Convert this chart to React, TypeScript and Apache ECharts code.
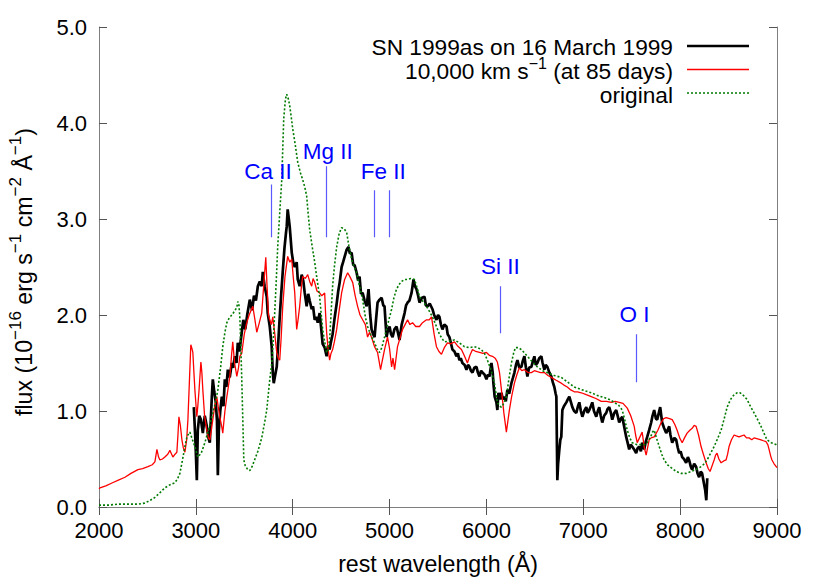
import React, { useEffect, useRef } from "react";
import * as echarts from "echarts";

// SN 1999as observed spectrum (rest wavelength Å, flux 1e-16)
const snSpectrum: [number, number][] = [
  [2979,1.04],[2995,0.70],[3010,0.28],[3020,0.80],[3035,0.95],[3052,0.91],[3072,0.77],[3092,0.95],[3113,0.84],[3130,0.72],
  [3144,0.67],[3165,1.15],[3175,1.33],[3190,1.20],[3206,1.09],[3218,0.90],[3227,0.33],[3237,0.80],[3252,1.00],[3268,1.15],
  [3285,1.05],[3299,1.33],[3315,1.25],[3330,1.43],[3350,1.35],[3371,1.50],[3385,1.45],[3402,1.57],[3420,1.50],[3433,1.71],
  [3450,1.62],[3474,1.82],[3490,1.95],[3510,1.85],[3530,2.00],[3557,2.16],[3580,2.05],[3600,2.20],[3620,2.15],[3640,2.30],
  [3660,2.35],[3680,2.30],[3691,2.45],[3710,2.30],[3732,2.19],[3742,2.02],[3763,1.88],[3783,1.67],[3794,1.40],[3804,1.29],
  [3820,1.38],[3835,1.46],[3850,1.70],[3866,1.98],[3880,2.20],[3897,2.45],[3915,2.70],[3930,2.85],[3938,2.92],[3948,3.10],
  [3960,3.00],[3969,2.92],[3990,2.65],[4005,2.55],[4021,2.50],[4041,2.55],[4052,2.37],[4072,2.30],[4093,2.42],[4110,2.35],
  [4124,2.23],[4144,2.09],[4160,2.22],[4175,2.15],[4196,2.06],[4210,2.09],[4227,1.95],[4247,1.98],[4258,1.92],[4278,2.02],
  [4295,1.85],[4309,1.70],[4330,1.66],[4350,1.57],[4365,1.68],[4381,1.64],[4395,1.72],[4412,1.80],[4430,1.95],[4454,2.12],
  [4470,2.25],[4485,2.34],[4505,2.50],[4520,2.55],[4540,2.62],[4557,2.68],[4575,2.71],[4590,2.64],[4608,2.65],[4625,2.52],
  [4639,2.52],[4660,2.44],[4675,2.36],[4690,2.40],[4705,2.22],[4722,2.23],[4742,2.15],[4763,2.09],[4783,2.27],[4800,2.00],
  [4814,1.85],[4830,1.80],[4845,1.77],[4860,1.95],[4876,2.13],[4897,2.16],[4918,2.18],[4935,2.10],[4948,2.09],[4960,1.90],
  [4969,1.77],[4985,1.85],[5000,1.88],[5015,1.80],[5031,1.77],[5050,1.85],[5072,1.88],[5090,1.80],[5103,1.74],[5125,1.90],
  [5155,2.02],[5170,2.10],[5186,2.13],[5205,2.15],[5227,2.23],[5247,2.37],[5262,2.30],[5278,2.27],[5295,2.20],[5309,2.13],
  [5335,2.18],[5361,2.19],[5375,2.10],[5392,2.09],[5415,2.12],[5443,2.06],[5460,2.00],[5484,1.95],[5500,2.00],[5515,1.98],
  [5530,1.90],[5546,1.85],[5565,1.90],[5588,1.88],[5600,1.80],[5618,1.77],[5635,1.70],[5649,1.64],[5670,1.62],[5690,1.57],
  [5705,1.60],[5721,1.53],[5735,1.55],[5752,1.50],[5775,1.48],[5794,1.43],[5810,1.48],[5825,1.46],[5840,1.42],[5856,1.40],
  [5875,1.45],[5897,1.46],[5912,1.40],[5928,1.36],[5945,1.42],[5959,1.40],[5980,1.38],[6000,1.33],[6015,1.38],[6031,1.36],
  [6052,1.50],[6065,1.40],[6072,1.29],[6085,1.15],[6103,1.09],[6113,1.01],[6124,1.19],[6140,1.12],[6155,1.19],[6170,1.12],
  [6186,1.15],[6200,1.10],[6216,1.22],[6235,1.18],[6258,1.29],[6275,1.35],[6289,1.40],[6305,1.48],[6320,1.53],[6340,1.45],
  [6361,1.46],[6375,1.52],[6392,1.57],[6408,1.45],[6423,1.36],[6440,1.45],[6464,1.46],[6480,1.52],[6495,1.57],[6510,1.48],
  [6526,1.50],[6545,1.55],[6567,1.57],[6580,1.50],[6598,1.43],[6612,1.48],[6629,1.46],[6650,1.40],[6670,1.36],[6685,1.30],
  [6701,1.25],[6715,1.18],[6722,1.15],[6732,0.28],[6740,0.45],[6753,0.60],[6763,0.70],[6773,0.73],[6784,1.01],[6800,1.05],
  [6825,1.09],[6840,1.12],[6856,1.15],[6870,1.10],[6887,1.04],[6905,1.00],[6928,0.98],[6945,1.05],[6959,1.09],[6975,1.00],
  [6990,0.94],[7010,1.00],[7031,1.04],[7045,0.98],[7062,1.01],[7078,1.05],[7093,1.09],[7110,1.00],[7134,0.94],[7150,1.00],
  [7165,1.04],[7180,0.95],[7196,0.88],[7215,0.95],[7237,0.98],[7250,1.02],[7268,1.04],[7285,0.98],[7299,0.91],[7320,0.98],
  [7340,1.01],[7355,0.95],[7371,0.88],[7388,0.92],[7402,0.94],[7420,0.85],[7443,0.73],[7460,0.66],[7474,0.60],[7490,0.65],
  [7505,0.63],[7525,0.60],[7546,0.56],[7560,0.61],[7577,0.63],[7595,0.58],[7608,0.67],[7629,0.60],[7645,0.68],[7660,0.73],
  [7680,0.80],[7701,0.88],[7715,0.95],[7732,1.01],[7750,0.92],[7763,0.91],[7780,0.98],[7794,1.04],[7814,0.88],[7835,0.82],
  [7856,0.77],[7870,0.80],[7887,0.84],[7900,0.75],[7918,0.67],[7940,0.72],[7959,0.70],[7975,0.62],[7990,0.56],[8005,0.58],
  [8021,0.52],[8040,0.50],[8062,0.46],[8080,0.52],[8093,0.49],[8110,0.42],[8124,0.39],[8145,0.45],[8165,0.42],[8180,0.35],
  [8196,0.31],[8212,0.37],[8227,0.35],[8245,0.25],[8258,0.18],[8270,0.07],[8280,0.30]
];

// Model at 10,000 km/s (85 days)
const model10000: [number, number][] = [
  [2000,0.19],[2010,0.20],[2070,0.22],[2134,0.25],[2200,0.28],[2268,0.31],[2330,0.35],[2402,0.39],[2450,0.40],[2505,0.42],
  [2550,0.44],[2577,0.47],[2598,0.60],[2615,0.52],[2629,0.49],[2655,0.50],[2680,0.52],[2710,0.55],[2732,0.59],[2750,0.55],
  [2763,0.52],[2785,0.55],[2804,0.57],[2815,0.75],[2825,0.94],[2840,0.85],[2856,0.70],[2870,0.62],[2887,0.57],[2905,0.70],
  [2918,0.91],[2935,1.35],[2948,1.69],[2960,1.65],[2969,1.61],[2980,1.40],[2990,1.22],[3010,0.94],[3020,1.05],[3031,1.19],
  [3052,1.51],[3062,1.40],[3072,1.22],[3090,0.95],[3113,0.80],[3130,0.72],[3144,0.70],[3160,0.80],[3175,0.91],[3195,1.05],
  [3216,1.15],[3230,1.05],[3247,0.94],[3265,0.85],[3278,0.77],[3300,1.00],[3320,1.15],[3335,1.25],[3351,1.36],[3370,1.60],
  [3381,1.72],[3400,1.50],[3423,1.36],[3440,1.45],[3454,1.57],[3474,1.60],[3500,1.80],[3526,1.92],[3550,2.00],[3588,2.09],
  [3610,1.95],[3629,1.82],[3650,1.90],[3680,2.02],[3700,2.30],[3722,2.60],[3735,2.30],[3750,2.00],[3763,1.95],[3780,1.90],
  [3794,1.98],[3815,1.80],[3835,1.61],[3850,1.55],[3866,1.53],[3880,1.75],[3897,2.09],[3920,2.40],[3948,2.61],[3970,2.55],
  [3990,2.58],[4005,2.40],[4021,2.23],[4041,1.85],[4055,1.95],[4072,2.09],[4090,2.30],[4103,2.40],[4130,2.38],[4155,2.42],
  [4175,2.35],[4196,2.30],[4210,2.38],[4227,2.34],[4250,2.25],[4278,2.23],[4300,2.20],[4330,2.23],[4340,2.00],[4350,1.82],
  [4365,1.65],[4381,1.53],[4395,1.60],[4412,1.64],[4430,1.72],[4454,1.85],[4480,2.05],[4505,2.23],[4520,2.30],[4536,2.37],
  [4567,2.44],[4590,2.40],[4619,2.34],[4645,2.20],[4670,2.09],[4695,2.00],[4722,1.95],[4750,1.90],[4773,1.77],[4794,1.82],
  [4820,1.75],[4845,1.67],[4876,1.61],[4907,1.43],[4920,1.50],[4948,1.64],[4979,1.77],[5000,1.65],[5021,1.46],[5035,1.55],
  [5052,1.43],[5082,1.67],[5105,1.75],[5134,1.85],[5160,1.90],[5186,1.95],[5210,1.90],[5237,1.92],[5270,1.88],[5309,1.88],
  [5340,1.92],[5381,1.95],[5410,1.95],[5433,1.98],[5460,1.80],[5484,1.67],[5510,1.62],[5536,1.59],[5565,1.66],[5598,1.71],
  [5630,1.70],[5670,1.72],[5700,1.68],[5742,1.64],[5770,1.58],[5804,1.50],[5830,1.58],[5856,1.64],[5890,1.62],[5928,1.61],
  [5965,1.60],[6000,1.61],[6030,1.58],[6062,1.57],[6090,1.55],[6113,1.51],[6135,1.40],[6155,1.22],[6180,0.98],[6206,0.78],
  [6222,0.90],[6237,1.01],[6260,1.15],[6289,1.29],[6315,1.38],[6340,1.45],[6365,1.42],[6392,1.43],[6430,1.40],[6464,1.40],
  [6495,1.42],[6526,1.41],[6560,1.40],[6598,1.40],[6635,1.37],[6670,1.35],[6720,1.32],[6773,1.29],[6800,1.27],[6835,1.25],
  [6870,1.22],[6907,1.20],[6940,1.20],[6979,1.19],[7030,1.17],[7082,1.15],[7130,1.13],[7186,1.10],[7240,1.10],[7289,1.09],
  [7330,1.10],[7371,1.09],[7410,1.08],[7454,1.03],[7490,0.95],[7526,0.84],[7540,0.75],[7557,0.67],[7580,0.72],[7608,0.78],
  [7630,0.62],[7649,0.54],[7665,0.62],[7680,0.70],[7700,0.72],[7732,0.73],[7770,0.80],[7804,0.88],[7830,0.92],[7856,0.93],
  [7890,0.92],[7918,0.91],[7945,0.86],[7969,0.80],[7995,0.72],[8021,0.67],[8045,0.72],[8072,0.77],[8100,0.80],[8124,0.82],
  [8145,0.85],[8165,0.84],[8190,0.75],[8216,0.63],[8240,0.55],[8268,0.46],[8290,0.40],[8309,0.37],[8330,0.43],[8351,0.49],
  [8366,0.54],[8381,0.56],[8400,0.50],[8423,0.46],[8450,0.48],[8474,0.49],[8490,0.55],[8505,0.63],[8530,0.70],[8557,0.75],
  [8580,0.74],[8608,0.73],[8635,0.74],[8660,0.75],[8685,0.72],[8711,0.72],[8740,0.70],[8763,0.72],[8800,0.71],[8835,0.70],
  [8860,0.69],[8887,0.68],[8905,0.65],[8918,0.60],[8935,0.53],[8948,0.49],[8970,0.45],[9000,0.41]
];

// Original model
const originalModel: [number, number][] = [
  [2000,0.02],[2100,0.02],[2200,0.03],[2300,0.03],[2400,0.03],[2470,0.04],[2530,0.07],[2577,0.10],[2630,0.15],[2680,0.20],
  [2730,0.23],[2780,0.25],[2810,0.29],[2835,0.35],[2860,0.48],[2887,0.63],[2910,0.74],[2938,0.78],[2965,0.70],[2990,0.63],
  [3020,0.52],[3055,0.56],[3093,0.67],[3130,0.80],[3165,0.94],[3200,1.08],[3227,1.22],[3255,1.45],[3278,1.67],[3300,1.82],
  [3320,1.92],[3345,1.97],[3371,2.00],[3400,2.04],[3423,2.08],[3433,2.14],[3445,2.10],[3454,1.98],[3465,1.65],[3474,1.33],
  [3485,0.90],[3495,0.49],[3510,0.43],[3535,0.39],[3557,0.38],[3580,0.42],[3610,0.50],[3640,0.58],[3680,0.72],[3710,0.88],
  [3732,1.01],[3760,1.30],[3784,1.50],[3800,1.75],[3814,2.02],[3830,2.35],[3845,2.71],[3865,3.05],[3887,3.41],[3907,4.04],
  [3925,4.25],[3938,4.30],[3955,4.25],[3969,4.18],[3985,4.06],[4000,3.94],[4025,3.78],[4052,3.59],[4080,3.48],[4103,3.41],
  [4125,3.33],[4144,3.24],[4160,3.05],[4175,2.89],[4200,2.72],[4227,2.55],[4250,2.38],[4278,2.19],[4295,2.00],[4309,1.85],
  [4330,1.72],[4350,1.61],[4365,1.63],[4381,1.74],[4395,2.00],[4412,2.30],[4430,2.50],[4454,2.71],[4480,2.85],[4505,2.91],
  [4530,2.90],[4557,2.86],[4580,2.72],[4608,2.58],[4635,2.50],[4660,2.44],[4690,2.30],[4722,2.16],[4750,1.98],[4773,1.88],
  [4810,1.78],[4845,1.71],[4870,1.65],[4897,1.61],[4920,1.66],[4948,1.77],[4985,1.92],[5021,2.06],[5045,2.18],[5072,2.27],
  [5100,2.32],[5124,2.35],[5155,2.37],[5186,2.37],[5220,2.38],[5258,2.37],[5285,2.28],[5309,2.19],[5345,2.14],[5381,2.09],
  [5410,2.04],[5443,1.98],[5480,1.89],[5515,1.80],[5545,1.75],[5567,1.72],[5620,1.73],[5670,1.74],[5720,1.71],[5773,1.67],
  [5825,1.66],[5876,1.67],[5910,1.66],[5948,1.64],[5980,1.60],[6010,1.53],[6050,1.42],[6082,1.29],[6113,1.09],[6135,1.05],
  [6155,1.04],[6180,1.08],[6206,1.15],[6230,1.32],[6258,1.50],[6280,1.60],[6299,1.66],[6330,1.66],[6361,1.64],[6423,1.57],
  [6475,1.51],[6526,1.46],[6580,1.42],[6629,1.40],[6700,1.37],[6773,1.35],[6840,1.30],[6907,1.25],[6990,1.22],[7082,1.19],
  [7150,1.16],[7216,1.14],[7270,1.12],[7320,1.09],[7365,1.06],[7402,1.01],[7430,0.90],[7454,0.80],[7480,0.72],[7505,0.67],
  [7550,0.65],[7598,0.65],[7630,0.65],[7660,0.67],[7695,0.73],[7715,0.78],[7732,0.80],[7755,0.72],[7784,0.63],[7810,0.55],
  [7835,0.49],[7870,0.44],[7907,0.41],[7960,0.37],[8010,0.35],[8060,0.35],[8113,0.37],[8165,0.39],[8216,0.42],[8250,0.45],
  [8278,0.49],[8315,0.56],[8351,0.63],[8390,0.72],[8423,0.80],[8455,0.92],[8485,1.04],[8520,1.12],[8557,1.17],[8590,1.19],
  [8619,1.19],[8655,1.16],[8691,1.12],[8725,1.05],[8763,0.98],[8800,0.91],[8835,0.84],[8865,0.77],[8897,0.70],[8940,0.67],
  [8990,0.65],[9000,0.64]
];

// Line identifications
const ionNames = ["Ca II", "Mg II", "Fe II", "Si II", "O I"];
const ionLabelPos: [number, number][] = [[3745, 3.5], [4361, 3.7], [4935, 3.5], [6144, 2.51], [7530, 2.01]];
const ionMarks: [number, number, number][] = [
  [3780, 2.81, 3.36], [4347, 2.81, 3.55], [4845, 2.81, 3.3], [4993, 2.81, 3.3], [6144, 1.81, 2.3], [7543, 1.3, 1.8]
];

const xTicks = { min: 2000, max: 9000, interval: 1000 };
const yTicks = { min: 0, max: 5, interval: 1 };

const legendLabels = [
  "{n|SN 1999as on 16 March 1999}",
  "{n|10,000 km s}{s|−1}{n| (at 85 days)}",
  "{n|original}",
];
const yAxisTitle = "{n|flux (10}{s|−16}{n| erg s}{s|−1}{n| cm}{s|−2}{n| Å}{s|−1}{n|)}";

const FONT = "'Liberation Sans', Arial, Helvetica, sans-serif";
const BLACK = "#000000";
const RED = "#ff0000";
const GREEN = "#007a00";

export default function App() {
  const ref = useRef<HTMLDivElement>(null);
  useEffect(() => {
    if (!ref.current) return;
    const chart = echarts.init(ref.current, undefined, { renderer: "svg" });
    const legendRich = {
      n: { fontSize: 22.7, fontFamily: FONT, color: "#000", lineHeight: 12 },
      s: { fontSize: 16, fontFamily: FONT, color: "#000", lineHeight: 6, padding: [0, 0, 16, 0] },
    };
    const titleRich = {
      n: { fontSize: 23.2, fontFamily: FONT, color: "#000", lineHeight: 12 },
      s: { fontSize: 17, fontFamily: FONT, color: "#000", lineHeight: 6, padding: [0, 0, 17, 0] },
    };
    const axisCommon = {
      axisLine: { show: true, lineStyle: { color: "#7f7f7f", width: 1 } },
      axisTick: { show: true, inside: true, length: 8, lineStyle: { color: "#555", width: 1 } },
      splitLine: { show: false },
    };
    const legendX = 673;
    const legendTextY = [47, 71, 95];
    const legendLineY = [46, 69.5, 93];
    const legendColors = [BLACK, RED, GREEN];
    const legendWidths = [2.6, 1.3, 1.6];
    const graphics: any[] = [];
    legendLabels.forEach((t, i) => {
      graphics.push({
        type: "text",
        x: legendX,
        y: legendTextY[i],
        style: {
          text: t,
          rich: legendRich,
          fontSize: 22.7,
          fontFamily: FONT,
          fill: "#000",
          align: "right",
          verticalAlign: "middle",
        },
      });
      graphics.push({
        type: "line",
        shape: { x1: 687, y1: legendLineY[i], x2: 749, y2: legendLineY[i] },
        style: {
          stroke: legendColors[i],
          lineWidth: legendWidths[i],
          lineDash: i === 2 ? [2, 2] : null,
        },
      });
    });
    graphics.push({
      type: "text",
      x: 24,
      y: 272,
      rotation: Math.PI / 2,
      style: {
        text: yAxisTitle,
        rich: titleRich,
        fontSize: 23.2,
        fontFamily: FONT,
        fill: "#000",
        align: "center",
        verticalAlign: "middle",
      },
    });

    chart.setOption({
      animation: false,
      backgroundColor: "#ffffff",
      grid: { left: 99, right: 53, top: 27, bottom: 74, containLabel: false },
      xAxis: [
        {
          type: "value",
          ...xTicks,
          position: "bottom",
          ...axisCommon,
          axisLabel: {
            fontSize: 22,
            fontFamily: FONT,
            color: "#000",
            margin: 12,
            formatter: (v: number) => String(v),
          },
          name: "rest wavelength (Å)",
          nameLocation: "middle",
          nameGap: 45,
          nameTextStyle: { fontSize: 23.2, fontFamily: FONT, color: "#000" },
        },
        {
          type: "value",
          ...xTicks,
          position: "top",
          ...axisCommon,
          axisLabel: { show: false },
        },
      ],
      yAxis: [
        {
          type: "value",
          ...yTicks,
          position: "left",
          ...axisCommon,
          axisLabel: {
            fontSize: 22,
            fontFamily: FONT,
            color: "#000",
            margin: 12,
            formatter: (v: number) => v.toFixed(1),
          },
        },
        {
          type: "value",
          ...yTicks,
          position: "right",
          ...axisCommon,
          axisLabel: { show: false },
        },
      ],
      series: [
        {
          name: "SN 1999as on 16 March 1999",
          type: "line",
          data: snSpectrum,
          showSymbol: false,
          symbol: "none",
          lineStyle: { color: BLACK, width: 2.7 },
          z: 2,
          silent: true,
        },
        {
          name: "10,000 km s-1 (at 85 days)",
          type: "line",
          data: model10000,
          showSymbol: false,
          symbol: "none",
          lineStyle: { color: RED, width: 1.3 },
          z: 3,
          silent: true,
        },
        {
          name: "original",
          type: "line",
          data: originalModel,
          showSymbol: false,
          symbol: "none",
          lineStyle: { color: GREEN, width: 1.6, type: [2, 2] },
          z: 4,
          silent: true,
        },
        {
          name: "ion marks",
          type: "lines",
          coordinateSystem: "cartesian2d",
          data: ionMarks.map(([x, y0, y1]) => ({ coords: [[x, y0], [x, y1]] })),
          lineStyle: { color: "#3c3cff", width: 1.2, opacity: 0.85 },
          z: 5,
          silent: true,
        },
        {
          name: "ion labels",
          type: "scatter",
          data: ionNames.map((n, i) => ({ name: n, value: ionLabelPos[i] })),
          symbolSize: 0,
          itemStyle: { opacity: 1 },
          label: {
            show: true,
            position: "inside",
            formatter: "{b}",
            fontSize: 22.5,
            fontFamily: FONT,
            color: "#0000ff",
            opacity: 1,
          },
          z: 6,
          silent: true,
        },
      ],
      graphic: graphics,
    });
    return () => chart.dispose();
  }, []);
  return (
    <div
      ref={ref}
      style={{ position: "fixed", left: 0, top: 0, width: 830, height: 581, background: "#fff" }}
    />
  );
}
